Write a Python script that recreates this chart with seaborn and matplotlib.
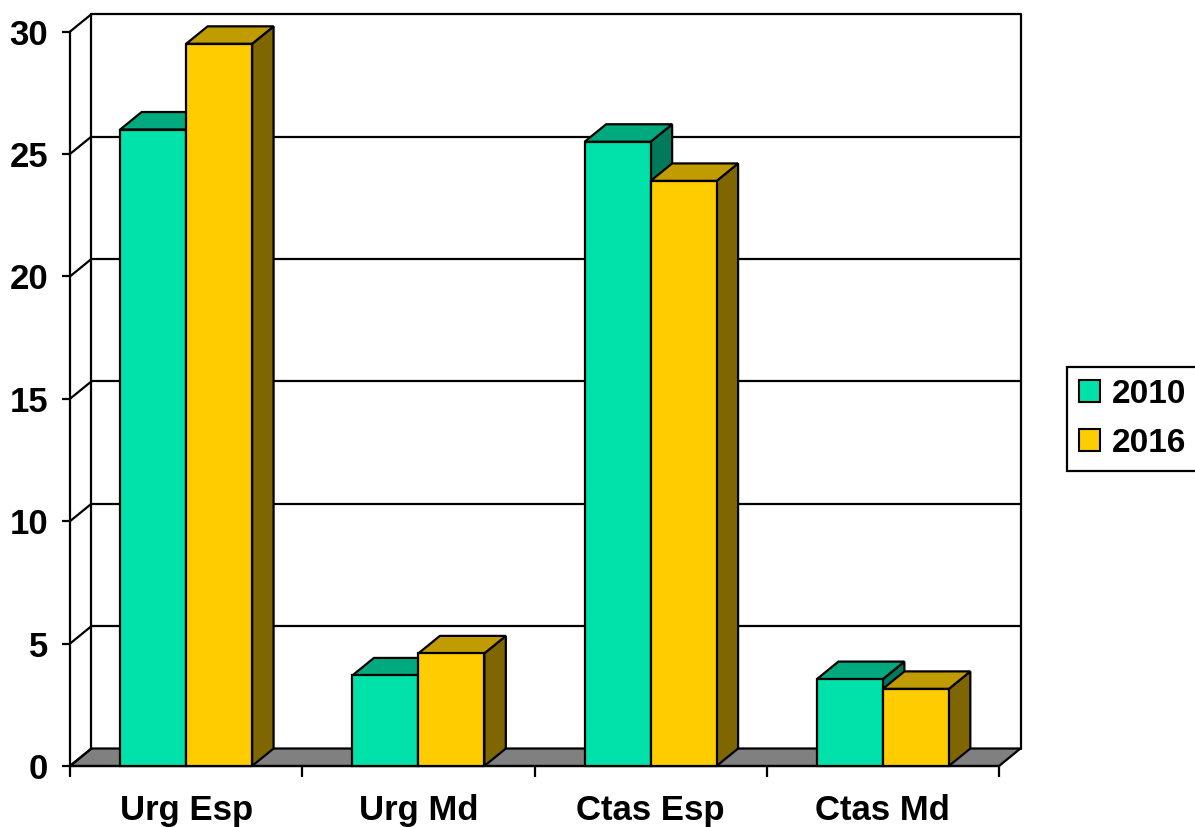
import matplotlib
matplotlib.use("Agg")
import matplotlib.pyplot as plt
from matplotlib.patches import Polygon, Patch
import seaborn as sns
import pandas as pd

categories = ["Urg Esp", "Urg Md", "Ctas Esp", "Ctas Md"]
series_names = ["2010", "2016"]
values_2010 = [26.0, 3.7, 25.5, 3.55]
values_2016 = [29.5, 4.6, 23.9, 3.15]
y_ticks = [0, 5, 10, 15, 20, 25, 30]

front_colors = {"2010": "#00E2AA", "2016": "#FFCC00"}
top_colors = {"2010": "#00A97E", "2016": "#C09C00"}
side_colors = {"2010": "#007A5A", "2016": "#806600"}

df = pd.DataFrame({
    "cat": categories * 2,
    "year": [series_names[0]] * 4 + [series_names[1]] * 4,
    "val": values_2010 + values_2016,
})

sns.set_theme(style="white")
plt.rcParams["font.family"] = ["Liberation Sans", "DejaVu Sans"]
plt.rcParams["font.weight"] = "bold"
plt.rcParams["text.color"] = "black"
plt.rcParams["xtick.color"] = "black"
plt.rcParams["ytick.color"] = "black"
plt.rcParams["axes.labelcolor"] = "black"

W, H = 1195, 827
fig = plt.figure(figsize=(W / 100, H / 100), dpi=100)
x0p, x1p = 70, 999
y0p, y1p = 766, 31.6
ax = fig.add_axes([x0p / W, (H - y0p) / H, (x1p - x0p) / W, (y0p - y1p) / H])

sns.barplot(data=df, x="cat", y="val", hue="year", order=categories,
            hue_order=series_names, palette=front_colors, width=0.568,
            saturation=1, edgecolor="black", linewidth=1.6, ax=ax,
            legend=False, zorder=5)

# collect bars with their series name
bar_list = []
for name, cont in zip(series_names, ax.containers):
    for p in cont:
        bar_list.append((p, name))
bar_list.sort(key=lambda t: t[0].get_x())

ax.set_xlim(-0.5, 3.5)
ax.set_ylim(0, 30)

# depth offset in data units (21.5 px right, 17.5 px up)
ppx = (x1p - x0p) / 4.0
ppy = (y0p - y1p) / 30.0
ddx = 21.5 / ppx
ddy = 17.5 / ppy

lw = 1.6
# floor
floor = Polygon([(-0.5, 0), (3.5, 0), (3.5 + ddx, ddy), (-0.5 + ddx, ddy)],
                closed=True, facecolor="#808080", edgecolor="black", lw=lw,
                clip_on=False, zorder=1)
ax.add_patch(floor)
# back wall gridlines and left wall diagonals
for v in y_ticks:
    if v > 0:
        ax.plot([-0.5 + ddx, 3.5 + ddx], [v + ddy, v + ddy], color="black",
                lw=lw, clip_on=False, zorder=1, solid_capstyle="butt")
    ax.plot([-0.5, -0.5 + ddx], [v, v + ddy], color="black", lw=lw,
            clip_on=False, zorder=1)
ax.plot([-0.5 + ddx, -0.5 + ddx], [ddy, 30 + ddy], color="black", lw=lw,
        clip_on=False, zorder=1)
ax.plot([3.5 + ddx, 3.5 + ddx], [ddy, 30 + ddy], color="black", lw=lw,
        clip_on=False, zorder=1)

# 3D tops and sides derived from bar patches, drawn left to right
z = 5
for p, name in bar_list:
    x = p.get_x()
    w = p.get_width()
    h = p.get_height()
    side = Polygon([(x + w, 0), (x + w + ddx, ddy), (x + w + ddx, h + ddy), (x + w, h)],
                   closed=True, facecolor=side_colors[name], edgecolor="black",
                   lw=lw, zorder=z, clip_on=False)
    top = Polygon([(x, h), (x + ddx, h + ddy), (x + w + ddx, h + ddy), (x + w, h)],
                  closed=True, facecolor=top_colors[name], edgecolor="black",
                  lw=lw, zorder=z + 1, clip_on=False)
    ax.add_patch(side)
    ax.add_patch(top)
    p.set_zorder(z + 2)
    p.set_clip_on(False)
    z += 3

# spines and ticks
for s in ["top", "right"]:
    ax.spines[s].set_visible(False)
for s in ["left", "bottom"]:
    ax.spines[s].set_linewidth(lw)
    ax.spines[s].set_color("black")
    ax.spines[s].set_zorder(2)

ax.set_yticks(y_ticks)
ax.set_yticklabels([str(t) for t in y_ticks], fontsize=25, fontweight="bold",
                   color="black")
ax.tick_params(axis="y", length=5.8, width=lw, color="black", pad=10, left=True)

ax.set_xticks([-0.5, 0.5, 1.5, 2.5, 3.5])
ax.set_xticklabels([""] * 5)
ax.set_xticks([0, 1, 2, 3], minor=True)
ax.set_xticklabels(categories, minor=True, fontsize=25, fontweight="bold",
                   color="black")
ax.tick_params(axis="x", which="major", length=8, width=lw, color="black", bottom=True)
ax.tick_params(axis="x", which="minor", length=0, pad=20)
ax.set_xlabel("")
ax.set_ylabel("")
ax.grid(False)

handles = [Patch(facecolor=front_colors[n], edgecolor="black", lw=1.5, label=n)
           for n in series_names]
leg = fig.legend(handles=handles, loc="upper left",
                 bbox_to_anchor=(1067 / W, 1 - 367 / H), frameon=True,
                 fancybox=False, edgecolor="black", framealpha=1,
                 prop={"size": 24, "weight": "bold"}, handlelength=0.65,
                 handleheight=0.65, handletextpad=0.35, borderpad=0.35,
                 labelspacing=0.55, borderaxespad=0)
leg.get_frame().set_linewidth(1.6)
for t in leg.get_texts():
    t.set_color("black")

fig.savefig("out.png", dpi=100, facecolor="white")
